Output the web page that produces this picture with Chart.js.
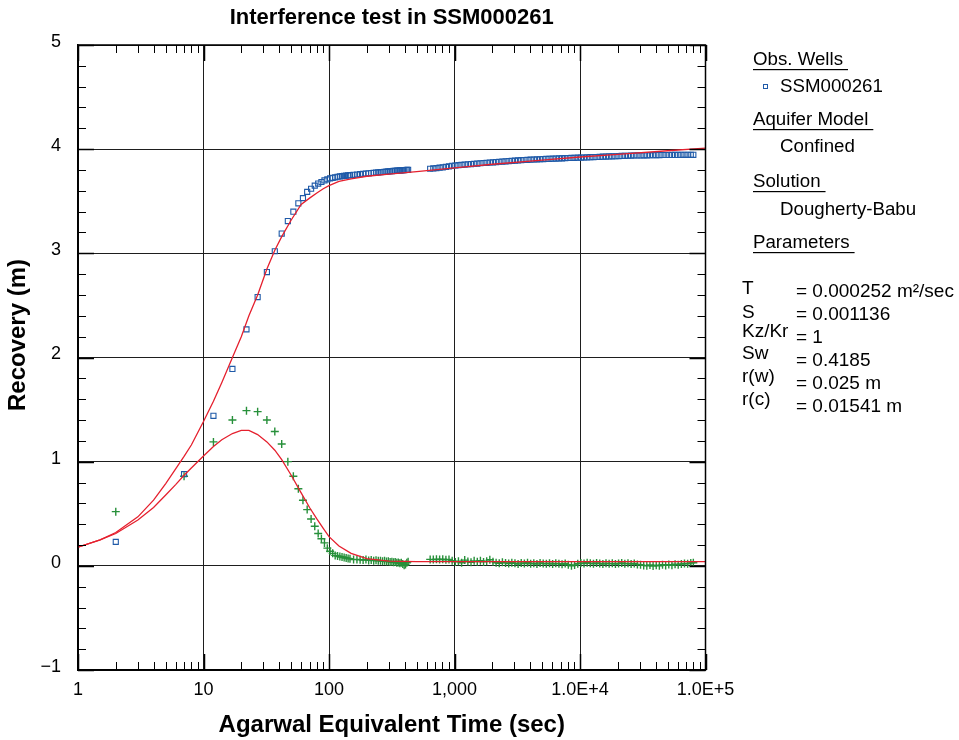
<!DOCTYPE html>
<html>
<head>
<meta charset="utf-8">
<script src="https://cdn.jsdelivr.net/npm/chart.js@4/dist/chart.umd.min.js"></script>
<style>
html,body{margin:0;padding:0;background:#fff;}
canvas{display:block;}
</style>
</head>
<body>
<canvas id="c" width="959" height="740"></canvas>
<script>
// ---------- data ----------
const chartTitle = 'Interference test in SSM000261';
const xTitle = 'Agarwal Equivalent Time (sec)';
const yTitle = 'Recovery (m)';
const xTickValues = [1, 10, 100, 1000, 10000, 100000];
const xTickLabels = ['1', '10', '100', '1,000', '1.0E+4', '1.0E+5'];
const yTickValues = [-1, 0, 1, 2, 3, 4, 5];

// observation times (s)
const obsTime = [2, 7, 12, 17, 22, 27, 32, 37, 42, 47, 52, 57, 62, 67, 72, 77, 82, 87, 92, 97,
  102, 107, 112, 117, 122, 127, 132, 137, 142, 147, 157, 167, 177, 187, 197, 207, 217, 227, 237, 247,
  257, 267, 277, 287, 297, 307, 317, 327, 337, 347, 357, 367, 377, 387, 397, 407, 417, 427,
  640, 678, 718, 761, 806, 854, 904, 958, 1015, 1075, 1139, 1206, 1278, 1354, 1434, 1519, 1609, 1704,
  1805, 1912, 2026, 2146, 2273, 2408, 2551, 2702, 2862, 3032, 3212, 3402, 3604, 3818, 4044, 4284,
  4538, 4807, 5092, 5394, 5714, 6053, 6412, 6792, 7195, 7621, 8073, 8552, 9059, 9596, 10165, 10768,
  11406, 12082, 12799, 13558, 14362, 15213, 16115, 17071, 18083, 19155, 20291, 21494, 22768, 24118,
  25548, 27063, 28667, 30367, 32167, 34074, 36095, 38235, 40502, 42903, 45447, 48141, 50995, 54019,
  57221, 60614, 64207, 68014, 72046, 76318, 80000];

// observed recovery (m) - SSM000261
const obsRecovery = [0.23, 0.88, 1.44, 1.89, 2.27, 2.58, 2.82, 3.02, 3.19, 3.31, 3.40, 3.48, 3.53, 3.59, 3.62, 3.65, 3.67, 3.685, 3.70, 3.71,
  3.72, 3.725, 3.73, 3.735, 3.738, 3.741, 3.744, 3.746, 3.748, 3.75, 3.754, 3.757, 3.76, 3.763, 3.766, 3.768, 3.771, 3.773, 3.775, 3.777,
  3.779, 3.781, 3.783, 3.784, 3.786, 3.788, 3.789, 3.791, 3.792, 3.794, 3.795, 3.796, 3.797, 3.798, 3.799, 3.80, 3.801, 3.802,
  3.812, 3.815, 3.818, 3.822, 3.826, 3.83, 3.835, 3.84, 3.843, 3.846, 3.849, 3.852, 3.855, 3.857, 3.86, 3.862, 3.865, 3.867,
  3.869, 3.872, 3.874, 3.876, 3.879, 3.881, 3.883, 3.886, 3.888, 3.89, 3.892, 3.894, 3.896, 3.897, 3.899, 3.901,
  3.902, 3.903, 3.905, 3.906, 3.907, 3.909, 3.91, 3.911, 3.912, 3.914, 3.915, 3.916, 3.917, 3.918, 3.919, 3.92,
  3.921, 3.923, 3.924, 3.925, 3.926, 3.928, 3.929, 3.93, 3.931, 3.932, 3.934, 3.935, 3.936, 3.937,
  3.938, 3.939, 3.94, 3.94, 3.941, 3.941, 3.942, 3.942, 3.943, 3.943, 3.944, 3.944, 3.944, 3.945,
  3.945, 3.945, 3.946, 3.946, 3.946, 3.946, 3.946];

// observed derivative
const obsDerivative = [0.52, 0.86, 1.19, 1.40, 1.49, 1.48, 1.40, 1.29, 1.17, 1.00, 0.86, 0.74, 0.63, 0.54, 0.45, 0.38, 0.31, 0.26, 0.22, 0.17,
  0.14, 0.12, 0.10, 0.095, 0.09, 0.085, 0.08, 0.075, 0.07, 0.068, 0.06, 0.062, 0.058, 0.055, 0.06, 0.052, 0.055, 0.05, 0.054, 0.048,
  0.05, 0.045, 0.048, 0.042, 0.045, 0.038, 0.04, 0.035, 0.038, 0.03, 0.032, 0.025, 0.03, 0.018, 0.005, 0.012, 0.03, 0.04,
  0.062, 0.06, 0.064, 0.061, 0.063, 0.058, 0.062, 0.05, 0.038, 0.045, 0.03, 0.055, 0.042, 0.035, 0.048, 0.04, 0.05, 0.038,
  0.045, 0.058, 0.04, 0.03, 0.025, 0.035, 0.028, 0.022, 0.03, 0.025, 0.018, 0.028, 0.022, 0.03, 0.02, 0.025,
  0.018, 0.028, 0.022, 0.02, 0.026, 0.018, 0.024, 0.02, 0.015, 0.022, 0.01, 0.0, 0.008, 0.02, 0.028, 0.022,
  0.03, 0.025, 0.02, 0.028, 0.022, 0.018, 0.026, 0.02, 0.024, 0.018, 0.022, 0.028, 0.02, 0.024,
  0.018, 0.022, 0.014, 0.01, 0.004, 0.0, 0.008, -0.002, 0.005, 0.0, 0.01, 0.004, 0.012, 0.006,
  0.015, 0.01, 0.018, 0.022, 0.02, 0.028, 0.03];

// Dougherty-Babu model curves
const modelTime = [1, 1.5, 2, 3, 4, 5, 6, 7, 8, 10, 12, 14, 17, 20, 23, 27, 32, 37, 42, 50, 60, 70, 80, 90, 100,
  120, 150, 200, 300, 500, 1000, 2000, 5000, 10000, 20000, 50000, 100000];
const modelRecovery = [0.18, 0.25, 0.32, 0.47, 0.63, 0.79, 0.93, 1.05, 1.16, 1.385, 1.58, 1.76, 2.0, 2.2, 2.4, 2.6, 2.85, 3.03, 3.16, 3.32, 3.47, 3.53, 3.58, 3.62, 3.65,
  3.69, 3.715, 3.74, 3.76, 3.785, 3.82, 3.855, 3.895, 3.925, 3.95, 3.985, 4.01];
const modelDerivative = [0.18, 0.25, 0.31, 0.44, 0.56, 0.68, 0.78, 0.87, 0.94, 1.055, 1.145, 1.21, 1.27, 1.30, 1.30, 1.26, 1.19, 1.11, 1.02, 0.87, 0.70, 0.56, 0.45, 0.36, 0.28,
  0.19, 0.12, 0.07, 0.045, 0.04, 0.04, 0.04, 0.04, 0.04, 0.04, 0.04, 0.04];

// legend / parameter panel text
const legendSections = [
  {head: 'Obs. Wells', item: 'SSM000261', marker: true},
  {head: 'Aquifer Model', item: 'Confined'},
  {head: 'Solution', item: 'Dougherty-Babu'},
  {head: 'Parameters'}
];
const paramNames = ['T', 'S', 'Kz/Kr', 'Sw', 'r(w)', 'r(c)'];
const paramValues = ['= 0.000252 m\u00B2/sec', '= 0.001136', '= 1', '= 0.4185', '= 0.025 m', '= 0.01541 m'];

// ---------- styling ----------
const FONT = '"Liberation Sans", Arial, Helvetica, sans-serif';
const BLUE = '#1f5aa8';
const GREEN = '#27903a';
const RED = '#e5202e';

function pts(xs, ys) { return xs.map((x, i) => ({x: x, y: ys[i]})); }

const bgPlugin = {
  id: 'bg',
  beforeDraw(chart) {
    const c = chart.ctx;
    c.save(); c.fillStyle = '#fff'; c.fillRect(0, 0, chart.width, chart.height); c.restore();
  }
};

const framePlugin = {
  id: 'frame',
  afterDraw(chart) {
    const c = chart.ctx, a = chart.chartArea;
    const xs = chart.scales.x, ys = chart.scales.y;
    c.save();
    c.strokeStyle = '#000';
    // minor ticks x
    c.lineWidth = 1;
    for (let d = 0; d < 5; d++) {
      for (let k = 2; k <= 9; k++) {
        const px = Math.round(xs.getPixelForValue(k * Math.pow(10, d))) + 0.5;
        c.beginPath();
        c.moveTo(px, a.bottom); c.lineTo(px, a.bottom - 8);
        c.moveTo(px, a.top); c.lineTo(px, a.top + 8);
        c.stroke();
      }
    }
    // minor ticks y
    for (let v = -1; v < 5; v++) {
      for (let k = 1; k <= 4; k++) {
        const py = Math.round(ys.getPixelForValue(v + k * 0.2)) + 0.5;
        c.beginPath();
        c.moveTo(a.left, py); c.lineTo(a.left + 8, py);
        c.moveTo(a.right, py); c.lineTo(a.right - 8, py);
        c.stroke();
      }
    }
    // major ticks
    c.lineWidth = 1.5;
    xTickValues.forEach(v => {
      const px = Math.round(xs.getPixelForValue(v)) + 0.5;
      c.beginPath();
      c.moveTo(px, a.bottom); c.lineTo(px, a.bottom - 16);
      c.moveTo(px, a.top); c.lineTo(px, a.top + 16);
      c.stroke();
    });
    yTickValues.forEach(v => {
      const py = Math.round(ys.getPixelForValue(v)) + 0.5;
      c.beginPath();
      c.moveTo(a.left, py); c.lineTo(a.left + 16, py);
      c.moveTo(a.right, py); c.lineTo(a.right - 16, py);
      c.stroke();
    });
    // frame
    c.lineWidth = 1.5;
    c.strokeRect(a.left, a.top, a.right - a.left, a.bottom - a.top);

    // chart title
    c.fillStyle = '#000';
    c.font = 'bold 22px ' + FONT;
    c.textAlign = 'center';
    c.textBaseline = 'middle';
    c.fillText(chartTitle, (a.left + a.right) / 2, 18);

    // y axis title
    c.save();
    c.translate(18, 335);
    c.rotate(-Math.PI / 2);
    c.font = 'bold 24px ' + FONT;
    c.fillText(yTitle, 0, 0);
    c.restore();

    // legend panel
    c.font = '18.7px ' + FONT;
    c.textAlign = 'left';
    c.textBaseline = 'middle';
    const headY = [60, 120, 182, 243];
    const itemY = [87, 147, 210];
    legendSections.forEach((s, i) => {
      const y = headY[i];
      c.fillStyle = '#000';
      c.fillText(s.head, 753, y);
      const w = c.measureText(s.head).width + 5;
      c.fillRect(753, y + 9, w, 1.2);
      if (s.item) {
        c.fillText(s.item, 780, itemY[i]);
        if (s.marker) {
          c.strokeStyle = BLUE; c.lineWidth = 1;
          c.strokeRect(763.5, itemY[i] - 2.5, 4, 4);
        }
      }
    });
    c.font = '19px ' + FONT;
    const nameY = [289, 313, 332, 354, 377, 400];
    const valY = [292, 315, 338, 361, 384, 407];
    paramNames.forEach((n, i) => {
      c.fillText(n, 742, nameY[i]);
      c.fillText(paramValues[i], 796, valY[i]);
    });
    c.restore();
  }
};

new Chart(document.getElementById('c'), {
  type: 'scatter',
  data: {
    datasets: [
      {
        label: 'Fit recovery', data: pts(modelTime, modelRecovery), showLine: true,
        borderColor: RED, borderWidth: 1.3, pointRadius: 0, tension: 0, fill: false, order: 0
      },
      {
        label: 'Fit derivative', data: pts(modelTime, modelDerivative), showLine: true,
        borderColor: RED, borderWidth: 1.3, pointRadius: 0, tension: 0, fill: false, order: 0
      },
      {
        label: 'SSM000261', data: pts(obsTime, obsRecovery), pointStyle: 'rect', pointRadius: 3.6,
        borderColor: BLUE, backgroundColor: 'rgba(0,0,0,0)', borderWidth: 1.1, order: 1
      },
      {
        label: 'SSM000261 derivative', data: pts(obsTime, obsDerivative), pointStyle: 'cross', pointRadius: 4,
        borderColor: GREEN, backgroundColor: GREEN, borderWidth: 1.4, order: 2
      }
    ]
  },
  options: {
    responsive: false,
    animation: false,
    events: [],
    layout: {padding: {top: 45, right: 253.5, left: 0, bottom: 0}},
    plugins: {legend: {display: false}, tooltip: {enabled: false}, title: {display: false}},
    scales: {
      x: {
        type: 'logarithmic', min: 1, max: 100000,
        afterFit(s) { s.height = 70; },
        afterBuildTicks(s) { s.ticks = xTickValues.map(v => ({value: v, major: true})); },
        ticks: {
          autoSkip: false, maxRotation: 0, padding: 9, color: '#000',
          font: {family: FONT, size: 18},
          callback(v) { const i = xTickValues.indexOf(v); return i >= 0 ? xTickLabels[i] : ''; }
        },
        grid: {color: '#1e1e1e', lineWidth: 1, drawTicks: false},
        border: {display: true, color: '#000', width: 1.5},
        title: {display: true, text: xTitle, color: '#000', font: {family: FONT, size: 24, weight: 'bold'}, padding: {top: 4, bottom: 0}}
      },
      y: {
        min: -1, max: 5,
        afterFit(s) { s.width = 78; },
        afterBuildTicks(s) { s.ticks = yTickValues.map(v => ({value: v})); },
        ticks: {
          padding: 17, color: '#000', labelOffset: -3,
          font: {family: FONT, size: 18},
          callback(v) { return v < 0 ? '\u2212' + Math.abs(v) : String(v); }
        },
        grid: {color: '#1e1e1e', lineWidth: 1, drawTicks: false},
        border: {display: true, color: '#000', width: 1.5},
        title: {display: false, text: yTitle}
      }
    }
  },
  plugins: [bgPlugin, framePlugin]
});
</script>
</body>
</html>
